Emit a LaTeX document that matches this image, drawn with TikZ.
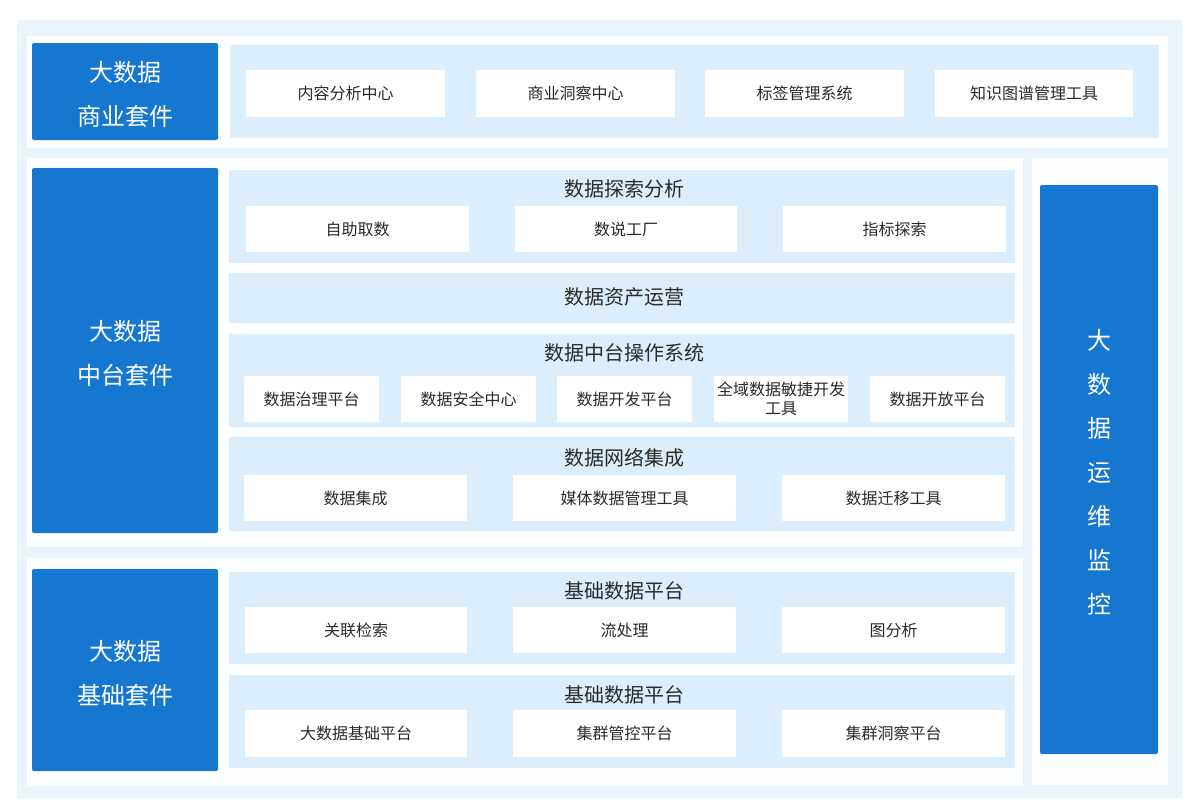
\documentclass[tikz,border=0pt]{standalone}
\usepackage{fontspec}
\setmainfont{Noto Sans CJK SC}
\definecolor{outerbg}{HTML}{EBF4FD}
\definecolor{panelwhite}{HTML}{FDFEFF}
\definecolor{lanebl}{HTML}{DCEEFC}
\definecolor{suiteblue}{HTML}{1577CF}
\definecolor{txt}{HTML}{2A2A2A}
\tikzset{
  panel/.style={fill=panelwhite, draw=none, inner sep=0pt},
  lane/.style={fill=lanebl, draw=none, inner sep=0pt},
  cell/.style={fill=white, draw=none, inner sep=0pt, align=center, text=txt,
    font=\fontsize{16}{19.5}\selectfont},
  suite/.style={fill=suiteblue, draw=none, rounded corners=2pt, inner sep=0pt},
  suitetext/.style={inner sep=0pt, align=center, text=white,
    font=\fontsize{24}{44}\selectfont},
  lanetitle/.style={inner sep=0pt, text=txt, font=\fontsize{20}{22}\selectfont},
}
% \rbox[style]{name}{x1}{y1}{x2}{y2}{text}
\newcommand{\rbox}[7][]{%
  \node[#1, minimum width={(#5-#3)*1pt}, minimum height={(#6-#4)*1pt}]
    (#2) at ({(#3+#5)/2},{(#4+#6)/2}) {#7};}
\begin{document}
\begin{tikzpicture}[x=1pt,y=-1pt]
\useasboundingbox (0,0) rectangle (1200,811);
\fill[white] (0,0) rectangle (1200,811);
\rbox[fill=outerbg, inner sep=0pt]{outer}{17}{20}{1182}{798}{}
% ---------- top section
\rbox[panel]{ptop}{27}{36}{1168}{148}{}
\rbox[suite]{stop}{32}{43}{218}{140}{}
\node[suitetext, yshift=-3pt] (stop-t) at (stop.center) {大数据\\商业套件};
\rbox[lane]{ltop}{230}{45}{1159}{138}{}
\rbox[cell]{c11}{246}{70}{445}{117}{内容分析中心}
\rbox[cell]{c12}{476}{70}{675}{117}{商业洞察中心}
\rbox[cell]{c13}{705}{70}{904}{117}{标签管理系统}
\rbox[cell]{c14}{935}{70}{1133}{117}{知识图谱管理工具}
% ---------- middle section
\rbox[panel]{pmid}{27}{158}{1023}{547}{}
\rbox[suite]{smid}{32}{168}{218}{533}{}
\node[suitetext, yshift=-3pt] (smid-t) at (smid.center) {大数据\\中台套件};
\rbox[lane]{l1}{229}{170}{1015}{263}{}
\node[lanetitle] (t1) at (624,189) {数据探索分析};
\rbox[cell]{c21}{246}{206}{469}{252}{自助取数}
\rbox[cell]{c22}{515}{206}{737}{252}{数说工厂}
\rbox[cell]{c23}{783}{206}{1006}{252}{指标探索}
\rbox[lane]{l2}{229}{273}{1015}{323}{}
\node[lanetitle] (t2) at (624,297) {数据资产运营};
\rbox[lane]{l3}{229}{334}{1015}{427}{}
\node[lanetitle] (t3) at (624,353) {数据中台操作系统};
\rbox[cell]{c31}{244}{376}{379}{422}{数据治理平台}
\rbox[cell]{c32}{401}{376}{536}{422}{数据安全中心}
\rbox[cell]{c33}{557}{376}{692}{422}{数据开发平台}
\rbox[cell]{c34}{714}{376}{848}{422}{全域数据敏捷开发\\工具}
\rbox[cell]{c35}{870}{376}{1005}{422}{数据开放平台}
\rbox[lane]{l4}{229}{437}{1015}{531}{}
\node[lanetitle] (t4) at (624,458) {数据网络集成};
\rbox[cell]{c41}{244}{475}{467}{521}{数据集成}
\rbox[cell]{c42}{513}{475}{736}{521}{媒体数据管理工具}
\rbox[cell]{c43}{782}{475}{1005}{521}{数据迁移工具}
% ---------- right section
\rbox[panel]{pright}{1032}{158}{1168}{785}{}
\rbox[suite]{sright}{1040}{185}{1158}{754}{}
\node[suitetext, yshift=-3pt] (sright-t) at (sright.center) {大\\数\\据\\运\\维\\监\\控};
% ---------- bottom section
\rbox[panel]{pbot}{27}{558}{1023}{786}{}
\rbox[suite]{sbot}{32}{569}{218}{771}{}
\node[suitetext, yshift=-3pt] (sbot-t) at (sbot.center) {大数据\\基础套件};
\rbox[lane]{l5}{229}{572}{1015}{664}{}
\node[lanetitle] (t5) at (624,591) {基础数据平台};
\rbox[cell]{c51}{245}{607}{467}{653}{关联检索}
\rbox[cell]{c52}{513}{607}{736}{653}{流处理}
\rbox[cell]{c53}{782}{607}{1005}{653}{图分析}
\rbox[lane]{l6}{229}{675}{1015}{768}{}
\node[lanetitle] (t6) at (624,695) {基础数据平台};
\rbox[cell]{c61}{245}{710}{467}{757}{大数据基础平台}
\rbox[cell]{c62}{513}{710}{736}{757}{集群管控平台}
\rbox[cell]{c63}{782}{710}{1005}{757}{集群洞察平台}
\end{tikzpicture}
\end{document}
